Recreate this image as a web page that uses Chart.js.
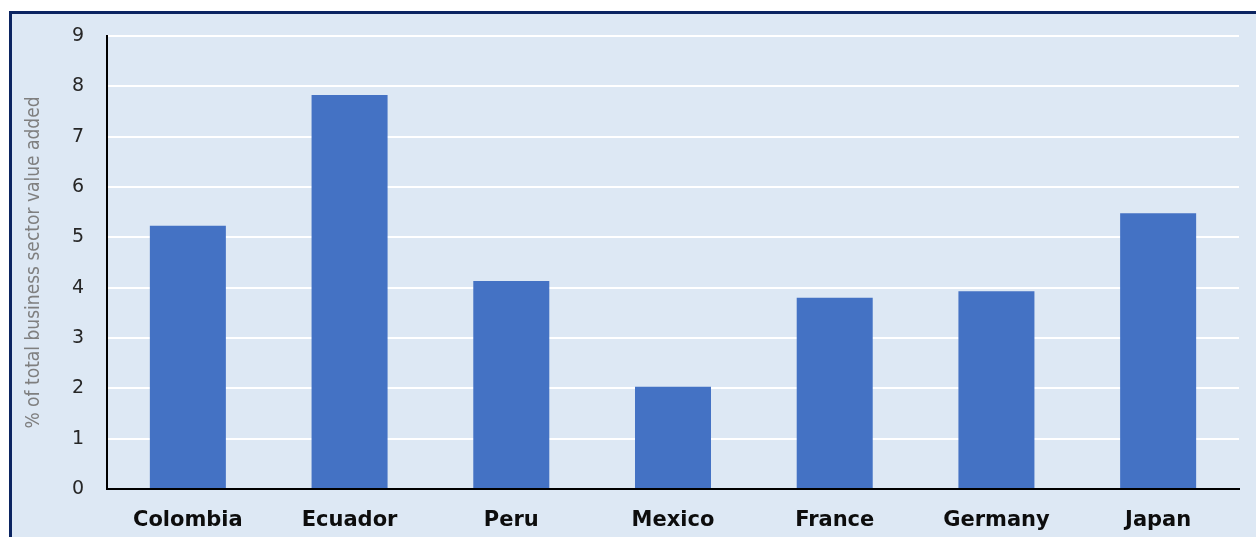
<!DOCTYPE html>
<html>
<head>
<meta charset="utf-8">
<script src="https://cdn.jsdelivr.net/npm/chart.js@4.4.1/dist/chart.umd.min.js"></script>
<style>
  html, body { margin: 0; padding: 0; background: #ffffff; overflow: hidden; }
  #frame {
    position: absolute; left: 9px; top: 11px; width: 1300px; height: 600px;
    background: #dde8f4;
    border-top: 3px solid #0b2461; border-left: 3px solid #0b2461;
  }
  #wrap { position: absolute; left: 0; top: 0; width: 1256px; height: 537px; }
</style>
</head>
<body>
<div id="frame"></div>
<div id="wrap"><canvas id="chart" width="1256" height="537"></canvas></div>
<script>
// Business sector value added share, by country
const countries = ["Colombia", "Ecuador", "Peru", "Mexico", "France", "Germany", "Japan"];
const shareValues = [5.23, 7.83, 4.13, 2.03, 3.80, 3.93, 5.48];
const yTicks = [0, 1, 2, 3, 4, 5, 6, 7, 8, 9];
const yTitle = "% of total business sector value added";

new Chart(document.getElementById("chart"), {
  type: "bar",
  data: {
    labels: countries,
    datasets: [{
      data: shareValues,
      backgroundColor: "#4472c4",
      borderWidth: 0,
      categoryPercentage: 1,
      barPercentage: 0.47
    }]
  },
  options: {
    responsive: false,
    animation: false,
    layout: { padding: { top: 36, right: 17, bottom: 0, left: 0 } },
    plugins: { legend: { display: false }, tooltip: { enabled: false } },
    scales: {
      x: {
        grid: { display: false, drawTicks: false },
        border: { display: true, color: "#000000", width: 2 },
        ticks: {
          color: "#0d0d0d",
          padding: 19,
          font: { family: "DejaVu Sans", size: 21, weight: "bold" }
        },
        afterFit: (s) => { s.height = 48; }
      },
      y: {
        min: 0,
        max: 9,
        afterBuildTicks: (s) => { s.ticks = yTicks.map(v => ({ value: v })); },
        grid: { color: "#ffffff", lineWidth: 2, drawTicks: false },
        border: { display: true, color: "#000000", width: 2 },
        ticks: {
          color: "#262626",
          padding: 23,
          font: { family: "DejaVu Sans", size: 19 }
        },
        title: {
          display: true,
          text: yTitle,
          color: "#7f7f7f",
          padding: { top: 23, bottom: 0 },
          font: { family: "'DejaVu Sans Condensed', 'DejaVu Sans'", size: 19 }
        },
        afterFit: (s) => { s.width = 107; }
      }
    }
  }
});
</script>
</body>
</html>
